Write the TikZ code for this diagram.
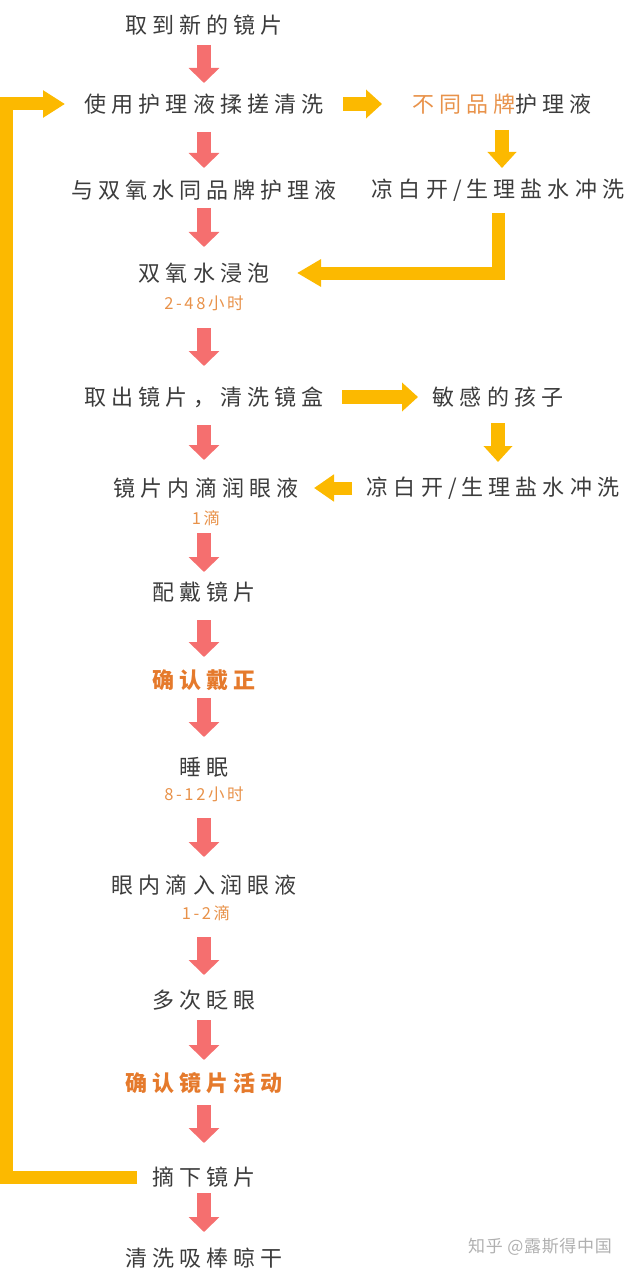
\documentclass[tikz,border=0pt]{standalone}
\usepackage{fontspec}
\setmainfont{Noto Sans CJK SC}
\newfontfamily\mainf[LetterSpace=23]{Noto Sans CJK SC}
\newfontfamily\smallf[LetterSpace=16]{Noto Sans CJK SC}
\newfontfamily\wmf[LetterSpace=4]{Noto Sans CJK SC}
\usetikzlibrary{arrows.meta}
\definecolor{txt}{HTML}{3C3C3C}
\definecolor{redA}{HTML}{F56F6F}
\definecolor{yel}{HTML}{FCB900}
\definecolor{orgB}{HTML}{E57A2C}
\definecolor{orgS}{HTML}{E8924A}
\definecolor{wm}{HTML}{B0B0B0}
\begin{document}
\begin{tikzpicture}[x=1pt,y=-1pt,
  lbl/.style={inner sep=0pt,text=txt,font=\mainf\fontsize{22}{22}\selectfont},
  hl/.style={lbl,text=orgB,font=\mainf\fontsize{22}{22}\selectfont\bfseries},
  sub/.style={inner sep=0pt,text=orgS,font=\smallf\fontsize{16.5}{16.5}\selectfont},
  redarr/.style={draw=redA,line width=14pt,-{Triangle[width=30pt,length=15pt]},color=redA},
  yelarr/.style={draw=yel,line width=14pt,line join=miter,-{Triangle[width=28pt,length=16pt]},color=yel},
  ]
\useasboundingbox (0,0) rectangle (631,1273);
% main column
\node[lbl] (A) at (204,25) {取到新的镜片};
\node[lbl] (B) at (204,104) {使用护理液揉搓清洗};
\node[lbl] (C) at (502,104) {\textcolor{orgS}{不同品牌}护理液};
\node[lbl] (D) at (204,190) {与双氧水同品牌护理液};
\node[lbl] (E) at (498,190) {凉白开/生理盐水冲洗};
\node[lbl] (F) at (204,273) {双氧水浸泡};
\node[sub] (F2) at (204,303) {2-48小时};
\node[lbl] (G) at (204,397) {取出镜片，清洗镜盒};
\node[lbl] (H) at (498,397) {敏感的孩子};
\node[lbl] (I) at (206,488) {镜片内滴润眼液};
\node[lbl] (J) at (493,488) {凉白开/生理盐水冲洗};
\node[sub] (I2) at (206,518) {1滴};
\node[lbl] (K) at (204,592) {配戴镜片};
\node[hl] (L) at (204,680) {确认戴正};
\node[lbl] (M) at (204,767) {睡眠};
\node[sub] (M2) at (204,794) {8-12小时};
\node[lbl] (N) at (204,885) {眼内滴入润眼液};
\node[sub] (N2) at (206,913) {1-2滴};
\node[lbl] (O) at (204,1000) {多次眨眼};
\node[hl] (P) at (204,1083) {确认镜片活动};
\node[lbl] (Q) at (204,1177) {摘下镜片};
\node[lbl] (R) at (204,1258) {清洗吸棒晾干};
\node[inner sep=0pt,text=wm,font=\wmf\fontsize{17}{17}\selectfont] (W) at (540,1247) {知乎 @露斯得中国};
\coordinate (loopx) at (6.5,0);
% red arrows
\draw[redarr,shorten <=20pt,shorten >=21pt] (A.center) -- (B.center);
\draw[redarr,shorten <=28pt,shorten >=22pt] (B.center) -- (D.center);
\draw[redarr,shorten <=18pt,shorten >=26pt] (D.center) -- (F.center);
\draw[redarr,shorten <=25pt,shorten >=31pt] (F2.center) -- (G.center);
\draw[redarr,shorten <=28pt,shorten >=28pt] (G.center) -- (I.center -| G.center);
\draw[redarr,shorten <=15pt,shorten >=20pt] (I2.center -| K.center) -- (K.center);
\draw[redarr,shorten <=28pt,shorten >=23pt] (K.center) -- (L.center);
\draw[redarr,shorten <=18pt,shorten >=30pt] (L.center) -- (M.center);
\draw[redarr,shorten <=24pt,shorten >=28pt] (M2.center) -- (N.center);
\draw[redarr,shorten <=24pt,shorten >=25pt] (N2.center -| O.center) -- (O.center);
\draw[redarr,shorten <=20pt,shorten >=23pt] (O.center) -- (P.center);
\draw[redarr,shorten <=22pt,shorten >=34pt] (P.center) -- (Q.center);
\draw[redarr,shorten <=16pt,shorten >=26pt] (Q.center) -- (R.center);
% yellow arrows
\draw[yelarr,shorten <=139pt,shorten >=120pt] (B.center) -- (C.center);
\draw[yelarr,shorten <=26pt,shorten >=22pt] (C.center) -- (C.center |- E.center);
\draw[yelarr,line width=13pt,-{Triangle[width=26pt,length=24pt]},shorten <=23pt,shorten >=93pt] (E.center) -- (E.center |- F.center) -- (F.center);
\draw[yelarr,shorten <=138pt,shorten >=80pt] (G.center) -- (H.center);
\draw[yelarr,shorten <=26pt,shorten >=26pt] (H.center) -- (H.center |- J.center);
\draw[yelarr,line width=13pt,-{Triangle[width=26pt,length=20pt]},shorten <=141pt,shorten >=108pt] (J.center) -- (I.center);
\draw[yelarr,line width=13pt,-{Triangle[width=26pt,length=22pt]},shorten <=67pt,shorten >=139pt] (Q.center) -- (Q.center -| loopx) -- (B.center -| loopx) -- (B.center);
\end{tikzpicture}
\end{document}
